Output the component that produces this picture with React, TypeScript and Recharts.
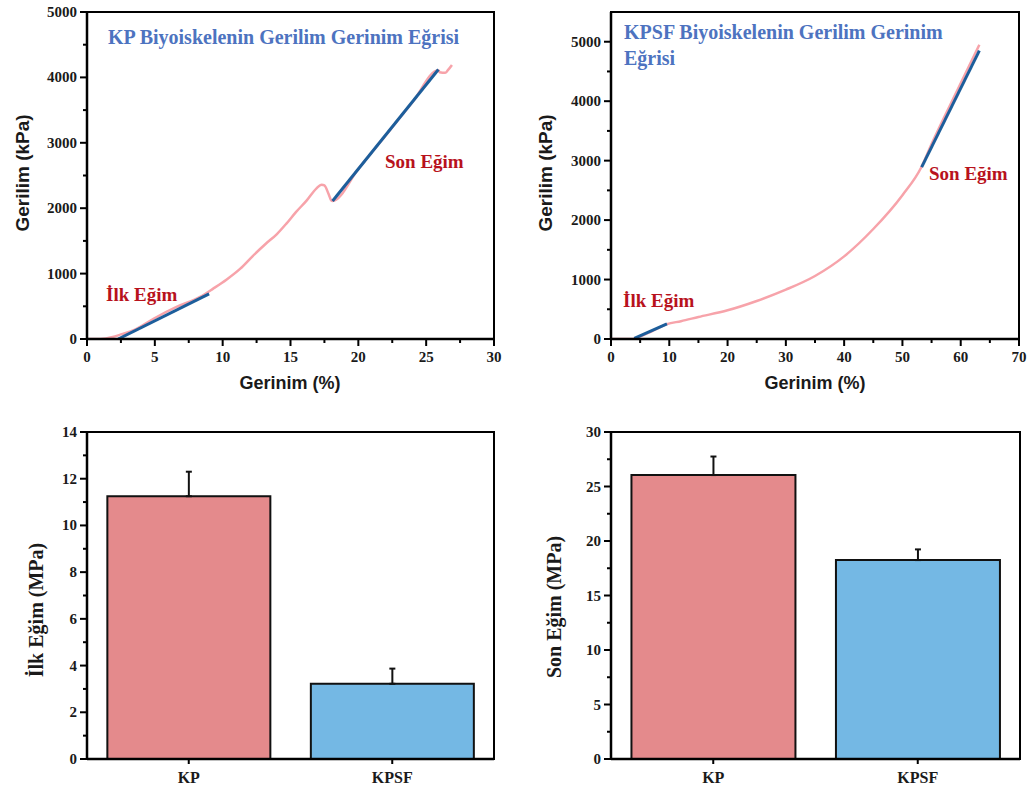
import { LineChart, Line, BarChart, Bar, Cell, ErrorBar, XAxis, YAxis } from 'recharts'

// KP stress-strain curve (strain %, stress kPa)
const KP_STRAIN = [0, 1, 1.9, 2.5, 3.4, 4.9, 6.6, 8.3, 9.3, 10.3, 11.3, 12.2, 13.2, 14, 14.7, 15.4, 16.2, 16.9, 17.3, 17.5, 17.8, 18.0, 18.1, 20, 22, 24, 25.9, 26.0, 26.4, 26.6, 26.9]
const KP_STRESS = [0, 0, 30, 70, 130, 310, 490, 640, 770, 910, 1075, 1265, 1460, 1605, 1765, 1940, 2120, 2300, 2360, 2350, 2220, 2120, 2110, 2600, 3110, 3625, 4110, 4080, 4070, 4110, 4190]
const KP_FIRST_FIT_X = [2.3, 9.0]
const KP_FIRST_FIT_Y = [0, 690]
const KP_LAST_FIT_X = [18.1, 25.9]
const KP_LAST_FIT_Y = [2110, 4120]

// KPSF stress-strain curve
const KPSF_STRAIN = [0, 3.8, 5, 7, 9.6, 12, 15, 20, 25, 30, 35, 40, 45, 50, 53.2, 55, 60, 63.2]
const KPSF_STRESS = [0, 0, 40, 130, 250, 300, 370, 483, 640, 830, 1060, 1390, 1850, 2419, 2880, 3280, 4300, 4950]
const KPSF_FIRST_FIT_X = [4, 9.6]
const KPSF_FIRST_FIT_Y = [10, 255]
const KPSF_LAST_FIT_X = [53.3, 63.2]
const KPSF_LAST_FIT_Y = [2890, 4850]

// bar charts
const GROUPS = ['KP', 'KPSF']
const ILK_MEAN = [11.25, 3.22]
const ILK_ERR = [1.05, 0.65]
const SON_MEAN = [26.05, 18.25]
const SON_ERR = [1.7, 0.98]

const TL_X_TICKS = [0, 2.5, 5, 7.5, 10, 12.5, 15, 17.5, 20, 22.5, 25, 27.5, 30]
const TR_X_TICKS = [0, 5, 10, 15, 20, 25, 30, 35, 40, 45, 50, 55, 60, 65, 70]
const STRESS_TICKS = [0, 500, 1000, 1500, 2000, 2500, 3000, 3500, 4000, 4500, 5000]
const ILK_TICKS = [0, 1, 2, 3, 4, 5, 6, 7, 8, 9, 10, 11, 12, 13, 14]
const SON_TICKS = [0, 2.5, 5, 7.5, 10, 12.5, 15, 17.5, 20, 22.5, 25, 27.5, 30]

const SERIF = '"Liberation Serif", "Times New Roman", serif'
const SANS = '"Liberation Sans", Arial, sans-serif'
const PINK = '#f7a3aa'
const FIT = '#1d5e9b'
const TITLE_BLUE = '#4d73c0'
const NOTE_RED = '#b8121c'
const AXIS = '#000'
const AXIS_LINE = { stroke: AXIS, strokeWidth: 2.5 }

const toPoints = (xs: number[], ys: number[]) => xs.map((x, i) => ({ x, y: ys[i] }))
const barData = (means: number[], errs: number[]) =>
  GROUPS.map((name, i) => ({ name, value: means[i], err: [0, errs[i]] }))

const BAR_COLORS = ['#e48a8c', '#74b8e4']

const isMajor = (v: number, step: number) => Math.abs(v / step - Math.round(v / step)) < 1e-6

function LeftTick({ x, y, payload, step }: any) {
  const major = isMajor(payload.value, step)
  return (
    <g>
      <rect x={x - (major ? 7 : 4)} y={y - 1} width={major ? 7 : 4} height={2} fill={AXIS} />
      {major && (
        <text x={x - 10} y={y + 5} textAnchor="end" fontFamily={SERIF} fontWeight="bold" fontSize={15} fill="#1a1a1a">
          {payload.value}
        </text>
      )}
    </g>
  )
}

function BottomTick({ x, y, payload, step }: any) {
  const major = isMajor(payload.value, step)
  return (
    <g>
      <rect x={x - 1} y={y} width={2} height={major ? 7 : 4} fill={AXIS} />
      {major && (
        <text x={x} y={y + 23} textAnchor="middle" fontFamily={SERIF} fontWeight="bold" fontSize={15} fill="#1a1a1a">
          {payload.value}
        </text>
      )}
    </g>
  )
}

function CategoryTick({ x, y, payload }: any) {
  return (
    <g>
      <rect x={x - 1} y={y} width={2} height={5} fill={AXIS} />
      <text x={x} y={y + 24} textAnchor="middle" fontFamily={SERIF} fontWeight="bold" fontSize={16} fill="#1a1a1a">
        {payload.value}
      </text>
    </g>
  )
}

function CurvePanel({ curve, firstFit, lastFit, xMax, yMax, xTicks, xStep, width, margin }: any) {
  return (
    <LineChart width={width} height={400} margin={margin}>
      <XAxis type="number" dataKey="x" domain={[0, xMax]} ticks={xTicks} interval={0} allowDataOverflow
        height={30} tickSize={0} tickMargin={0} tickLine={false} stroke={AXIS} axisLine={AXIS_LINE}
        tick={(p: any) => <BottomTick {...p} step={xStep} />} />
      <YAxis type="number" dataKey="y" domain={[0, yMax]} ticks={STRESS_TICKS} interval={0} allowDataOverflow
        width={60} tickSize={0} tickMargin={0} tickLine={false} stroke={AXIS} axisLine={AXIS_LINE}
        tick={(p: any) => <LeftTick {...p} step={1000} />} />
      <Line data={curve} dataKey="y" type="monotone" stroke={PINK} strokeWidth={2.5} dot={false} isAnimationActive={false} />
      <Line data={firstFit} dataKey="y" type="linear" stroke={FIT} strokeWidth={3} dot={false} isAnimationActive={false} />
      <Line data={lastFit} dataKey="y" type="linear" stroke={FIT} strokeWidth={3} dot={false} isAnimationActive={false} />
    </LineChart>
  )
}

function BarPanel({ data, yMax, ticks, step, width, margin }: any) {
  return (
    <BarChart width={width} height={392} data={data} margin={margin} barCategoryGap="10%">
      <XAxis dataKey="name" height={30} tickSize={0} tickMargin={0} tickLine={false} stroke={AXIS} axisLine={AXIS_LINE}
        interval={0} tick={(p: any) => <CategoryTick {...p} />} />
      <YAxis domain={[0, yMax]} ticks={ticks} interval={0} allowDataOverflow width={60} tickSize={0} tickMargin={0}
        tickLine={false} stroke={AXIS} axisLine={AXIS_LINE} tick={(p: any) => <LeftTick {...p} step={step} />} />
      <Bar dataKey="value" stroke="#111" strokeWidth={2} isAnimationActive={false}>
        {data.map((d: any, i: number) => (
          <Cell key={d.name} fill={BAR_COLORS[i]} />
        ))}
        <ErrorBar dataKey="err" width={3} stroke="#111" strokeWidth={2} isAnimationActive={false} />
      </Bar>
    </BarChart>
  )
}

// plot frame as a bordered box laid over the plot area
function Frame({ x, y, w, h }: { x: number; y: number; w: number; h: number }) {
  return (
    <div
      style={{
        position: 'absolute',
        left: x - 1,
        top: y - 1,
        width: w + 2,
        height: h + 2,
        boxSizing: 'border-box',
        border: '2px solid #000',
        pointerEvents: 'none',
      }}
    />
  )
}

export default function App() {
  const textBold = { fontWeight: 'bold' as const }
  return (
    <div style={{ position: 'absolute', left: 0, top: 0, width: 1029, height: 792, background: '#fff' }}>
      <div style={{ position: 'absolute', left: 0, top: 0 }}>
        <CurvePanel curve={toPoints(KP_STRAIN, KP_STRESS)} firstFit={toPoints(KP_FIRST_FIT_X, KP_FIRST_FIT_Y)}
          lastFit={toPoints(KP_LAST_FIT_X, KP_LAST_FIT_Y)} xMax={30} yMax={5000} xTicks={TL_X_TICKS} xStep={5}
          width={510} margin={{ top: 12, right: 16, bottom: 31, left: 27 }} />
      </div>
      <div style={{ position: 'absolute', left: 520, top: 0 }}>
        <CurvePanel curve={toPoints(KPSF_STRAIN, KPSF_STRESS)} firstFit={toPoints(KPSF_FIRST_FIT_X, KPSF_FIRST_FIT_Y)}
          lastFit={toPoints(KPSF_LAST_FIT_X, KPSF_LAST_FIT_Y)} xMax={70} yMax={5500} xTicks={TR_X_TICKS} xStep={10}
          width={509} margin={{ top: 12, right: 10, bottom: 31, left: 31 }} />
      </div>
      <div style={{ position: 'absolute', left: 0, top: 400 }}>
        <BarPanel data={barData(ILK_MEAN, ILK_ERR)} yMax={14} ticks={ILK_TICKS} step={2}
          width={510} margin={{ top: 32, right: 16, bottom: 3, left: 27 }} />
      </div>
      <div style={{ position: 'absolute', left: 520, top: 400 }}>
        <BarPanel data={barData(SON_MEAN, SON_ERR)} yMax={30} ticks={SON_TICKS} step={5}
          width={509} margin={{ top: 32, right: 9, bottom: 3, left: 31 }} />
      </div>
      <Frame x={87} y={12} w={407} h={327} />
      <Frame x={611} y={12} w={408} h={327} />
      <Frame x={87} y={432} w={407} h={327} />
      <Frame x={611} y={432} w={409} h={327} />
      <svg width={1029} height={792} style={{ position: 'absolute', left: 0, top: 0, pointerEvents: 'none' }}>
        {/* top-left panel */}
        <text x={108} y={44} fontFamily={SERIF} fontSize={20} fill={TITLE_BLUE} {...textBold}>
          KP Biyoiskelenin Gerilim Gerinim Eğrisi
        </text>
        <text x={106} y={301} fontFamily={SERIF} fontSize={19} fill={NOTE_RED} {...textBold}>İlk Eğim</text>
        <text x={385} y={168} fontFamily={SERIF} fontSize={19} fill={NOTE_RED} {...textBold}>Son Eğim</text>
        <text transform="translate(29,173) rotate(-90)" textAnchor="middle" fontFamily={SANS} fontSize={19} fill="#1a1a1a" {...textBold}>
          Gerilim (kPa)
        </text>
        <text x={290} y={389} textAnchor="middle" fontFamily={SANS} fontSize={18} fill="#1a1a1a" {...textBold}>Gerinim (%)</text>

        {/* top-right panel */}
        <text x={624} y={39} fontFamily={SERIF} fontSize={20} fill={TITLE_BLUE} {...textBold}>
          KPSF Biyoiskelenin Gerilim Gerinim
        </text>
        <text x={624} y={65} fontFamily={SERIF} fontSize={20} fill={TITLE_BLUE} {...textBold}>Eğrisi</text>
        <text x={929} y={180} fontFamily={SERIF} fontSize={19} fill={NOTE_RED} {...textBold}>Son Eğim</text>
        <text x={623} y={307} fontFamily={SERIF} fontSize={19} fill={NOTE_RED} {...textBold}>İlk Eğim</text>
        <text transform="translate(552,173) rotate(-90)" textAnchor="middle" fontFamily={SANS} fontSize={19} fill="#1a1a1a" {...textBold}>
          Gerilim (kPa)
        </text>
        <text x={815} y={389} textAnchor="middle" fontFamily={SANS} fontSize={18} fill="#1a1a1a" {...textBold}>Gerinim (%)</text>

        {/* bottom panels */}
        <text transform="translate(43,610) rotate(-90)" textAnchor="middle" fontFamily={SERIF} fontSize={20} fill="#1a1a1a" {...textBold}>
          İlk Eğim (MPa)
        </text>
        <text transform="translate(561,607) rotate(-90)" textAnchor="middle" fontFamily={SERIF} fontSize={20} fill="#1a1a1a" {...textBold}>
          Son Eğim (MPa)
        </text>
      </svg>
    </div>
  )
}
